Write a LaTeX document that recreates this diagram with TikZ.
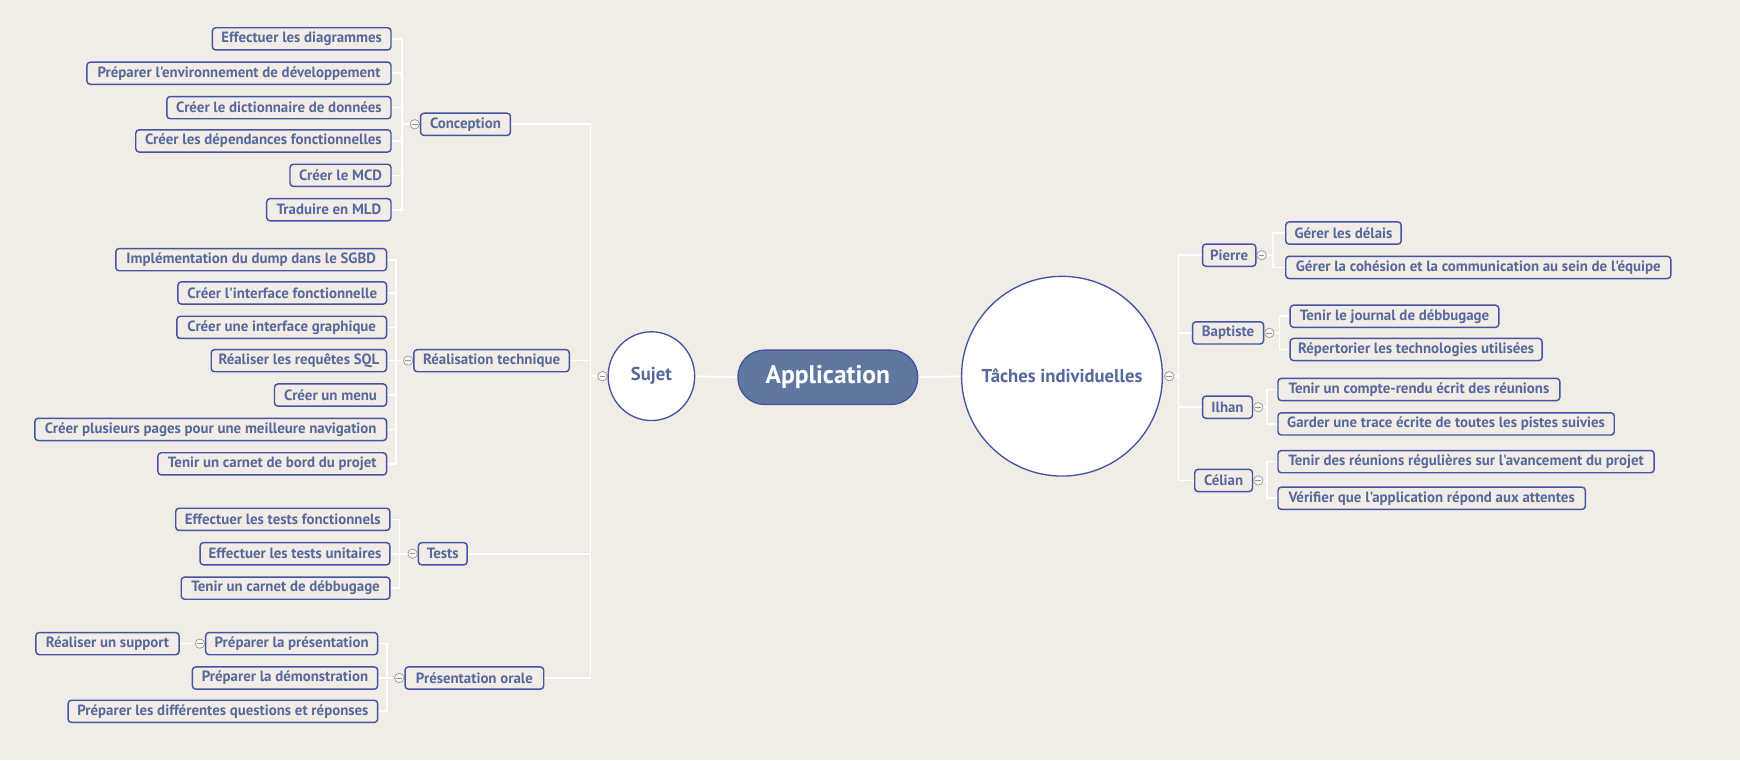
\documentclass[tikz,border=0pt]{standalone}
\usepackage{fontspec}
\setmainfont{PT Sans}[Ligatures=TeXOff]
\usetikzlibrary{positioning,shapes.geometric}
\definecolor{bg}{RGB}{241,236,230}
\definecolor{bdr}{RGB}{66,84,162}
\definecolor{txt}{RGB}{86,104,156}
\definecolor{appfill}{RGB}{96,120,160}
\definecolor{mkgray}{RGB}{150,150,150}
\pgfdeclarelayer{bgl}
\pgfdeclarelayer{cnl}
\pgfsetlayers{bgl,cnl,main}
\tikzset{
  leaf/.style={draw=bdr, line width=1.3pt, rounded corners=3pt, text=txt,
    font=\bfseries\fontsize{13.4}{15}\selectfont, minimum height=20pt,
    inner xsep=0pt, inner ysep=0pt, fill=bg},
  lefty/.style={leaf, anchor=east},
  righty/.style={leaf, anchor=west},
  mk/.style={circle, draw=mkgray, fill=bg!40!white, line width=0.6pt,
    minimum size=8.5pt, inner sep=0pt,
    path picture={\draw[mkgray, line width=0.6pt]
      ([xshift=-2.6pt]path picture bounding box.center) -- ([xshift=2.6pt]path picture bounding box.center);}},
  conn/.style={draw=white, line width=1.5pt},
  bigc/.style={ellipse, draw=bdr, line width=1.2pt, fill=white, text=txt,
    inner sep=0pt, font=\bfseries\fontsize{16.8}{19}\selectfont}
}
\begin{document}
\begin{tikzpicture}[x=1pt,y=-1pt]
\begin{pgfonlayer}{bgl}
\fill[bg] (0,0) rectangle (1568,685);
\end{pgfonlayer}
\useasboundingbox (0,0) rectangle (1568,685);

% central
\node[draw=bdr, line width=1.2pt, fill=appfill, rounded corners=24pt,
  minimum width=162pt, minimum height=49pt, inner sep=0pt, text=white,
  font=\bfseries\fontsize{23}{26}\selectfont] (app) at (746,340) {Application};
\node[bigc, minimum width=78pt, minimum height=80pt] (suj) at (587,339) {\makebox[0pt]{Sujet}};
\node[bigc, minimum width=181pt, minimum height=180pt] (tach) at (957,339) {\makebox[0pt]{Tâches individuelles}};
\node[mk, left=0pt of suj] (sujM) {};
\node[mk, right=1pt of tach] (tachM) {};

% level 1 left
\node[leaf, minimum width=81pt] (conc) at (419.5,112) {Conception};
\node[leaf, minimum width=140pt] (real) at (443,325) {Réalisation technique};
\node[leaf, minimum width=44pt] (tests) at (399,499) {Tests};
\node[leaf, minimum width=125pt] (pres) at (427.5,611) {Présentation orale};
\node[mk, left=0pt of conc] (concM) {};
\node[mk, left=0pt of real] (realM) {};
\node[mk, left=0pt of tests] (testsM) {};
\node[mk, left=0pt of pres] (presM) {};

% Conception children
\node[lefty, minimum width=161pt] (ca) at (353,35) {Effectuer les diagrammes};
\node[lefty, minimum width=274pt] (cb) at (353,66) {Préparer l'environnement de développement};
\node[lefty, minimum width=202pt] (cc) at (353,97) {Créer le dictionnaire de données};
\node[lefty, minimum width=230pt] (cd) at (353,127) {Créer les dépendances fonctionnelles};
\node[lefty, minimum width=91pt] (ce) at (353,158) {Créer le MCD};
\node[lefty, minimum width=112pt] (cf) at (353,189) {Traduire en MLD};

% Realisation children
\node[lefty, minimum width=244pt] (ra) at (349,234) {Implémentation du dump dans le SGBD};
\node[lefty, minimum width=188pt] (rb) at (349,264) {Créer l'interface fonctionnelle};
\node[lefty, minimum width=189pt] (rc) at (349,295) {Créer une interface graphique};
\node[lefty, minimum width=158pt] (rd) at (349,325) {Réaliser les requêtes SQL};
\node[lefty, minimum width=101pt] (re) at (349,356) {Créer un menu};
\node[lefty, minimum width=317pt] (rf) at (349,387) {Créer plusieurs pages pour une meilleure navigation};
\node[lefty, minimum width=206pt] (rg) at (349,418) {Tenir un carnet de bord du projet};

% Tests children
\node[lefty, minimum width=193pt] (ta) at (352,468) {Effectuer les tests fonctionnels};
\node[lefty, minimum width=171pt] (tb) at (352,499) {Effectuer les tests unitaires};
\node[lefty, minimum width=188pt] (tc) at (352,530) {Tenir un carnet de débbugage};

% Presentation children
\node[lefty, minimum width=155pt] (pa) at (341,580) {Préparer la présentation};
\node[lefty, minimum width=167pt] (pb) at (341,611) {Préparer la démonstration};
\node[lefty, minimum width=279pt] (pc) at (341,641) {Préparer les différentes questions et réponses};
\node[mk, left=0pt of pa] (paM) {};
\node[lefty, minimum width=129pt] (paa) at (162,580) {Réaliser un support};

% right persons
\node[righty, minimum width=48pt] (pier) at (1083,230) {Pierre};
\node[righty, minimum width=64pt] (bapt) at (1074,300) {Baptiste};
\node[righty, minimum width=45pt] (ilh) at (1083,367) {Ilhan};
\node[righty, minimum width=52pt] (cel) at (1076,433) {Célian};
\node[mk, right=0pt of pier] (pierM) {};
\node[mk, right=0pt of bapt] (baptM) {};
\node[mk, right=0pt of ilh] (ilhM) {};
\node[mk, right=0pt of cel] (celM) {};

\node[righty, minimum width=104pt] (pia) at (1158,210) {Gérer les délais};
\node[righty, minimum width=347pt] (pib) at (1158,241) {Gérer la cohésion et la communication au sein de l'équipe};
\node[righty, minimum width=188pt] (baa) at (1162,285) {Tenir le journal de débbugage};
\node[righty, minimum width=227pt] (bab) at (1162,315) {Répertorier les technologies utilisées};
\node[righty, minimum width=254pt] (ila) at (1151,351) {Tenir un compte-rendu écrit des réunions};
\node[righty, minimum width=303pt] (ilb) at (1151,382) {Garder une trace écrite de toutes les pistes suivies};
\node[righty, minimum width=339pt] (cea) at (1151,416) {Tenir des réunions régulières sur l'avancement du projet};
\node[righty, minimum width=277pt] (ceb) at (1151,449) {Vérifier que l'application répond aux attentes};

% junction coordinates
\coordinate (jL) at (532,339);
\coordinate (jC) at (362,112);
\coordinate (jR) at (357,325);
\coordinate (jT) at (360,499);
\coordinate (jP) at (349,611);
\coordinate (jRt) at (1062,339);
\coordinate (jPi) at (1147,230);
\coordinate (jBa) at (1153,300);
\coordinate (jIl) at (1142,367);
\coordinate (jCe) at (1142,433);

\begin{pgfonlayer}{cnl}
\draw[conn] (app.west) -- (suj.east);
\draw[conn] (app.east) -- (tach.west);
\draw[conn] (sujM.west) -- (jL) |- (conc.east);
\draw[conn] (jL) |- (real.east);
\draw[conn] (jL) |- (tests.east);
\draw[conn] (jL) |- (pres.east);
\foreach \n in {ca,cb,cc,cd,ce,cf} \draw[conn] (concM.west) -- (jC) |- (\n.east);
\foreach \n in {ra,rb,rc,rd,re,rf,rg} \draw[conn] (realM.west) -- (jR) |- (\n.east);
\foreach \n in {ta,tb,tc} \draw[conn] (testsM.west) -- (jT) |- (\n.east);
\foreach \n in {pa,pb,pc} \draw[conn] (presM.west) -- (jP) |- (\n.east);
\draw[conn] (paM.west) -- (paa.east);
\foreach \n in {pier,bapt,ilh,cel} \draw[conn] (tachM.east) -- (jRt) |- (\n.west);
\foreach \n in {pia,pib} \draw[conn] (pierM.east) -- (jPi) |- (\n.west);
\foreach \n in {baa,bab} \draw[conn] (baptM.east) -- (jBa) |- (\n.west);
\foreach \n in {ila,ilb} \draw[conn] (ilhM.east) -- (jIl) |- (\n.west);
\foreach \n in {cea,ceb} \draw[conn] (celM.east) -- (jCe) |- (\n.west);
\end{pgfonlayer}
\end{tikzpicture}
\end{document}
